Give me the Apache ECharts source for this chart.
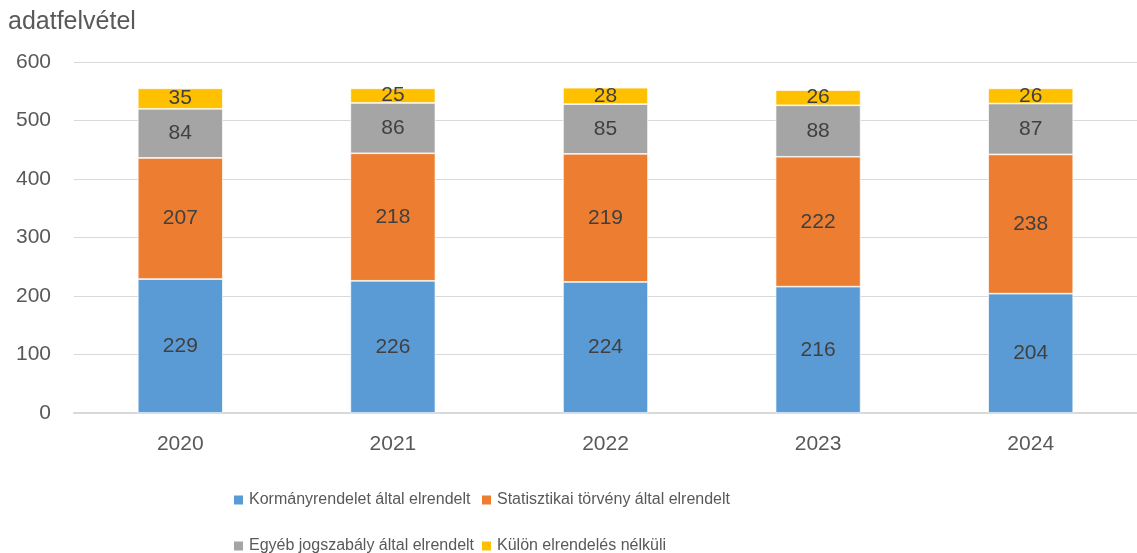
<!DOCTYPE html>
<html>
<head>
<meta charset="utf-8">
<script src="https://cdn.jsdelivr.net/npm/echarts@6/dist/echarts.min.js"></script>
<style>
  html, body { margin: 0; padding: 0; background: #fff; }
  #container { width: 1137px; height: 553px; }
</style>
</head>
<body>
<div id="container"></div>
<script>
var years = ['2020', '2021', '2022', '2023', '2024'];
var seriesNames = [
  'Kormányrendelet által elrendelt',
  'Statisztikai törvény által elrendelt',
  'Egyéb jogszabály által elrendelt',
  'Külön elrendelés nélküli'
];
var kormany = [229, 226, 224, 216, 204];
var statTorveny = [207, 218, 219, 222, 238];
var egyeb = [84, 86, 85, 88, 87];
var kulon = [35, 25, 28, 26, 26];
var yTicks = [0, 100, 200, 300, 400, 500, 600];

var colors = ['#5b9bd5', '#ed7d31', '#a5a5a5', '#ffc000'];
var font = 'Liberation Sans';

var dom = document.getElementById('container');
var myChart = echarts.init(dom);

function makeSeries(name, data, color) {
  return {
    name: name,
    type: 'bar',
    stack: 'total',
    barWidth: '40%',
    data: data,
    itemStyle: { color: color, borderColor: '#ffffff', borderWidth: 0.7 },
    label: {
      show: true,
      position: 'inside',
      color: '#404040',
      fontFamily: font,
      fontSize: 21
    }
  };
}

// one legend per item so the two columns sit where the reference has them
function makeLegend(name, left, top) {
  return {
    left: left,
    top: top,
    padding: 0,
    itemWidth: 11,
    itemHeight: 11,
    icon: 'rect',
    data: [name],
    textStyle: { fontFamily: font, fontSize: 16, color: '#595959' }
  };
}

var option = {
  animation: false,
  color: colors,
  title: {
    text: 'adatfelvétel',
    left: 8,
    top: 10,
    padding: 0,
    textStyle: { fontFamily: font, fontSize: 25, fontWeight: 'normal', color: '#595959' }
  },
  grid: { left: 74, top: 62, width: 1074, height: 351 },
  legend: [
    makeLegend(seriesNames[0], 232, 492),
    makeLegend(seriesNames[1], 480, 492),
    makeLegend(seriesNames[2], 232, 538),
    makeLegend(seriesNames[3], 480, 538)
  ],
  xAxis: {
    type: 'category',
    data: years,
    axisTick: { show: false },
    axisLine: { lineStyle: { color: '#d9d9d9', width: 2 } },
    axisLabel: { fontFamily: font, fontSize: 21, color: '#595959', margin: 21 }
  },
  yAxis: {
    type: 'value',
    min: yTicks[0],
    max: yTicks[yTicks.length - 1],
    interval: 100,
    axisLine: { show: false },
    axisTick: { show: false },
    splitLine: { lineStyle: { color: '#d9d9d9', width: 1 } },
    axisLabel: { fontFamily: font, fontSize: 21, color: '#595959', margin: 23 }
  },
  series: [
    makeSeries(seriesNames[0], kormany, colors[0]),
    makeSeries(seriesNames[1], statTorveny, colors[1]),
    makeSeries(seriesNames[2], egyeb, colors[2]),
    makeSeries(seriesNames[3], kulon, colors[3])
  ]
};

myChart.setOption(option, true);
</script>
</body>
</html>
